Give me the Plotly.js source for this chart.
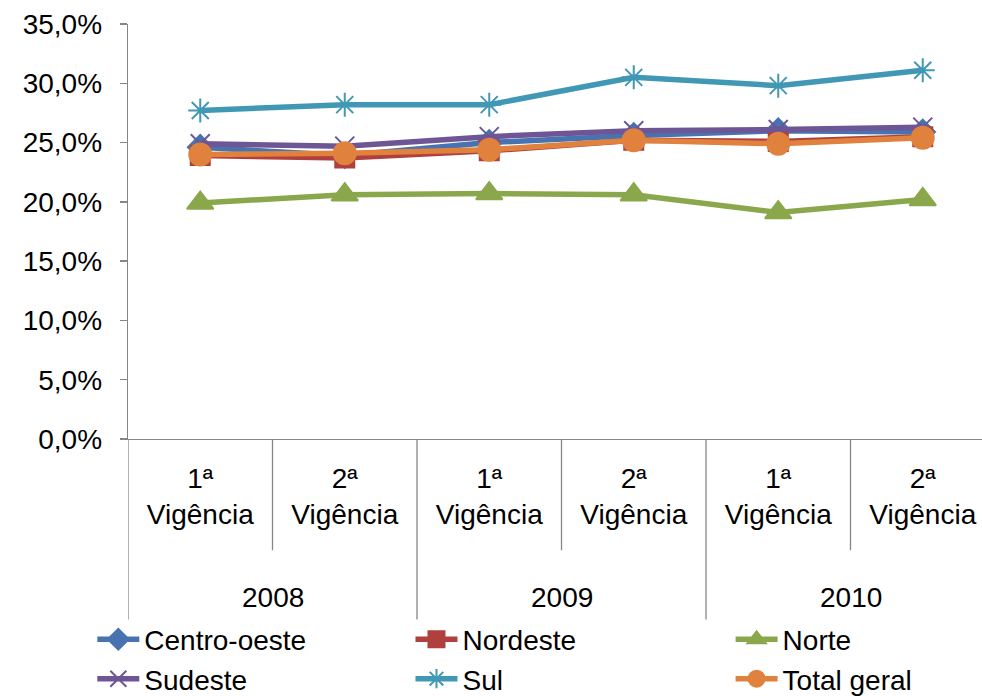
<!DOCTYPE html>
<html>
<head>
<meta charset="utf-8">
<script src="https://cdn.plot.ly/plotly-3.0.1.min.js"></script>
<style>html,body{margin:0;padding:0;background:#fff;}#chart{width:982px;height:696px;}</style>
</head>
<body>
<div id="chart"></div>
<script>
// ---- data ----
const years = ['2008', '2008', '2009', '2009', '2010', '2010'];
const periods = ['1ª Vigência', '2ª Vigência', '1ª Vigência', '2ª Vigência', '1ª Vigência', '2ª Vigência'];
const yearGroups = ['2008', '2009', '2010'];

const centroOeste = [0.246, 0.239, 0.250, 0.256, 0.260, 0.259];
const nordeste    = [0.239, 0.237, 0.243, 0.252, 0.251, 0.255];
const norte       = [0.199, 0.206, 0.207, 0.206, 0.191, 0.202];
const sudeste     = [0.249, 0.247, 0.255, 0.260, 0.261, 0.263];
const sul         = [0.277, 0.282, 0.282, 0.305, 0.298, 0.311];
const totalGeral  = [0.240, 0.241, 0.244, 0.252, 0.249, 0.254];

const seriesNames = ['Centro-oeste', 'Nordeste', 'Norte', 'Sudeste', 'Sul', 'Total geral'];

// ---- build ----
const cats = years.map((y, i) => y + ' ' + periods[i]);
const tickText = periods.map(p => p.replace(' ', '<br>'));
const FONT = 'Liberation Sans, Arial, sans-serif';
const FS = 28;

const styles = [
  {color: '#4774B0', symbol: 'diamond', size: 19, legend: 'legend'},
  {color: '#B0403D', symbol: 'square', size: 19, legend: 'legend2'},
  {color: '#8AA84B', symbol: 'triangle-up', size: 23, legend: 'legend3'},
  {color: '#6E5595', symbol: 'x-thin-open', size: 19, legend: 'legend'},
  {color: '#4198B5', symbol: 'asterisk-open', size: 20, legend: 'legend2'},
  {color: '#E0823D', symbol: 'circle', size: 22, legend: 'legend3'}
];
const values = [centroOeste, nordeste, norte, sudeste, sul, totalGeral];

const traces = values.map((v, i) => ({
  type: 'scatter', mode: 'lines+markers',
  x: cats, y: v, name: seriesNames[i],
  legend: styles[i].legend,
  line: {color: styles[i].color, width: 5.5},
  marker: {color: styles[i].color, symbol: styles[i].symbol, size: styles[i].size,
           line: {color: styles[i].color, width: 2}},
  cliponaxis: false
}));

const axisGray = '#868686';
const n = cats.length;
const shapes = [];
for (let b = 0; b <= n; b++) {
  const pos = b - 0.5;
  const outer = (b % 2 === 0);
  shapes.push({type: 'line', xref: 'x', yref: 'paper', x0: pos, x1: pos,
    y0: 0, y1: outer ? -0.435 : -0.268, line: {color: axisGray, width: 1.3}});
}
const annotations = yearGroups.map((y, g) => ({
  xref: 'x', yref: 'paper', x: g * 2 + 0.5, y: -0.381, text: y, showarrow: false,
  yanchor: 'middle', font: {family: FONT, size: FS, color: '#000'}
}));

const legendBase = {orientation: 'v', xref: 'container', yref: 'container', yanchor: 'top', xanchor: 'left',
  y: 0.117, font: {family: FONT, size: FS, color: '#000'}, bgcolor: 'rgba(0,0,0,0)', tracegroupgap: 0, itemwidth: 42};

const layout = {
  width: 982, height: 696,
  margin: {l: 128, r: 0, t: 24, b: 257, autoexpand: false},
  paper_bgcolor: '#fff', plot_bgcolor: '#fff',
  separators: ',.',
  font: {family: FONT, size: FS, color: '#000'},
  showlegend: true,
  xaxis: {type: 'category', range: [-0.5, 5.41], tickvals: cats, ticktext: tickText, tickangle: 0,
    automargin: false,
    showgrid: false, zeroline: false, showline: true, linecolor: axisGray, linewidth: 1.3,
    ticks: '', ticklabelstandoff: 14, tickfont: {family: FONT, size: FS, color: '#000'}, fixedrange: true},
  yaxis: {range: [0, 0.35], dtick: 0.05, tickformat: '.1%', showgrid: false, zeroline: false, automargin: false,
    showline: true, linecolor: axisGray, linewidth: 1.3, ticks: 'outside', ticklen: 7, tickcolor: axisGray,
    tickwidth: 1.3, ticklabelstandoff: 12, tickfont: {family: FONT, size: FS, color: '#000'}},
  shapes: shapes,
  annotations: annotations,
  legend: Object.assign({}, legendBase, {x: 0.094}),
  legend2: Object.assign({}, legendBase, {x: 0.418}),
  legend3: Object.assign({}, legendBase, {x: 0.744})
};

Plotly.newPlot('chart', traces, layout, {displayModeBar: false, staticPlot: true});
</script>
</body>
</html>
